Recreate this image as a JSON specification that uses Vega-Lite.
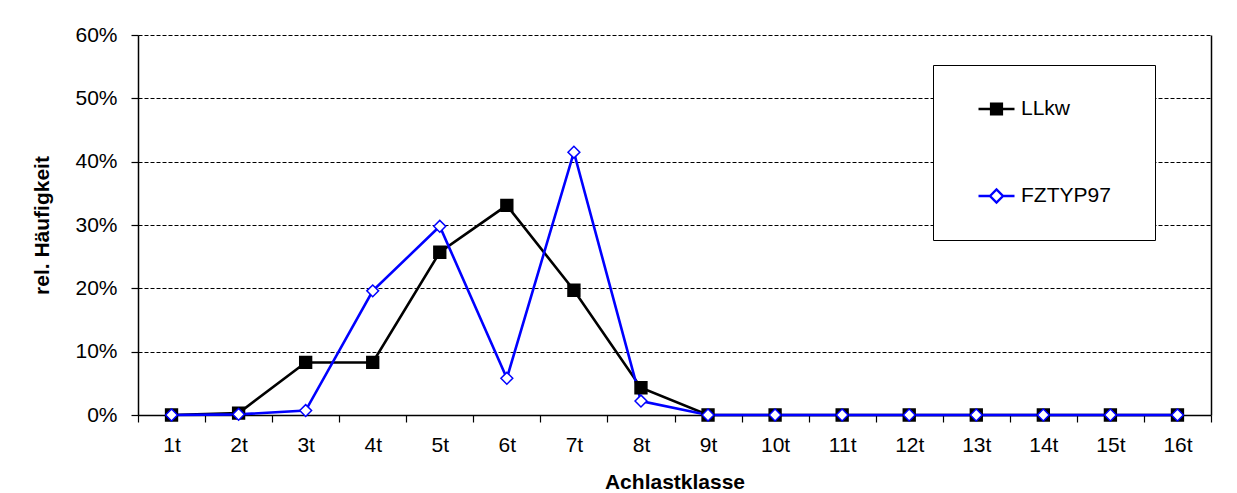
{
  "$schema": "https://vega.github.io/schema/vega-lite/v6.json",
  "autosize": {"type": "none"},
  "width": 1073,
  "height": 380,
  "padding": {"left": 138, "top": 35, "right": 26, "bottom": 78},
  "background": "white",
  "config": {
    "view": {"stroke": null},
    "font": "Liberation Sans",
    "axis": {"labelFont": "Liberation Sans", "titleFont": "Liberation Sans", "labelFontSize": 21, "titleFontSize": 21, "labelColor": "#000", "titleColor": "#000", "titleFontWeight": "bold", "domainColor": "#000", "tickColor": "#000", "domainWidth": 1.5, "tickWidth": 1.2, "tickSize": 7}
  },
  "data": {"values": [
    {"klasse": "1t", "serie": "LLkw", "wert": 0.0},
    {"klasse": "2t", "serie": "LLkw", "wert": 0.003},
    {"klasse": "3t", "serie": "LLkw", "wert": 0.083},
    {"klasse": "4t", "serie": "LLkw", "wert": 0.083},
    {"klasse": "5t", "serie": "LLkw", "wert": 0.257},
    {"klasse": "6t", "serie": "LLkw", "wert": 0.331},
    {"klasse": "7t", "serie": "LLkw", "wert": 0.197},
    {"klasse": "8t", "serie": "LLkw", "wert": 0.043},
    {"klasse": "9t", "serie": "LLkw", "wert": 0.0},
    {"klasse": "10t", "serie": "LLkw", "wert": 0.0},
    {"klasse": "11t", "serie": "LLkw", "wert": 0.0},
    {"klasse": "12t", "serie": "LLkw", "wert": 0.0},
    {"klasse": "13t", "serie": "LLkw", "wert": 0.0},
    {"klasse": "14t", "serie": "LLkw", "wert": 0.0},
    {"klasse": "15t", "serie": "LLkw", "wert": 0.0},
    {"klasse": "16t", "serie": "LLkw", "wert": 0.0},
    {"klasse": "1t", "serie": "FZTYP97", "wert": 0.0},
    {"klasse": "2t", "serie": "FZTYP97", "wert": 0.001},
    {"klasse": "3t", "serie": "FZTYP97", "wert": 0.007},
    {"klasse": "4t", "serie": "FZTYP97", "wert": 0.196},
    {"klasse": "5t", "serie": "FZTYP97", "wert": 0.298},
    {"klasse": "6t", "serie": "FZTYP97", "wert": 0.058},
    {"klasse": "7t", "serie": "FZTYP97", "wert": 0.415},
    {"klasse": "8t", "serie": "FZTYP97", "wert": 0.022},
    {"klasse": "9t", "serie": "FZTYP97", "wert": 0.0},
    {"klasse": "10t", "serie": "FZTYP97", "wert": 0.0},
    {"klasse": "11t", "serie": "FZTYP97", "wert": 0.0},
    {"klasse": "12t", "serie": "FZTYP97", "wert": 0.0},
    {"klasse": "13t", "serie": "FZTYP97", "wert": 0.0},
    {"klasse": "14t", "serie": "FZTYP97", "wert": 0.0},
    {"klasse": "15t", "serie": "FZTYP97", "wert": 0.0},
    {"klasse": "16t", "serie": "FZTYP97", "wert": 0.0}
  ]},
  "encoding": {
    "x": {
      "field": "klasse", "type": "ordinal",
      "sort": ["1t","2t","3t","4t","5t","6t","7t","8t","9t","10t","11t","12t","13t","14t","15t","16t"],
      "scale": {"type": "band", "paddingInner": 0, "paddingOuter": 0},
      "axis": {"title": "Achlastklasse", "labelAngle": 0, "tickBand": "extent", "labelPadding": 12, "titlePadding": 16, "grid": false}
    },
    "y": {
      "field": "wert", "type": "quantitative",
      "scale": {"domain": [0, 0.6], "nice": false}
    }
  },
  "layer": [
    {
      "mark": {"type": "line", "strokeWidth": 2.6},
      "encoding": {
        "y": {"field": "wert", "type": "quantitative", "scale": {"domain": [0, 0.6], "nice": false},
          "axis": {"title": "rel. Häufigkeit", "format": ".0%", "values": [0, 0.1, 0.2, 0.3, 0.4, 0.5, 0.6], "grid": true, "gridColor": "#000", "gridDash": [4, 2], "gridWidth": 1, "labelPadding": 14, "titlePadding": 22}},
        "color": {
          "field": "serie", "type": "nominal",
          "scale": {"domain": ["LLkw", "FZTYP97"], "range": ["#000000", "#0000ff"]},
          "legend": {
            "title": " ",
            "titleOrient": "right",
            "titlePadding": 10,
            "titleFontSize": 21,
            "titleFont": "Liberation Sans",
            "orient": "none",
            "legendX": 795,
            "legendY": 30,
            "padding": 34,
            "fillColor": "white",
            "strokeColor": "#000",
            "labelFont": "Liberation Sans",
            "labelFontSize": 21,
            "labelColor": "#000",
            "labelOffset": 5,
            "symbolSize": 1296,
            "symbolStrokeWidth": 2.4,
            "symbolOffset": 10,
            "clipHeight": 20,
            "rowPadding": 66,
            "encode": {
              "symbols": {"update": {
                "shape": [{"test": "datum.value === 'LLkw'", "value": "M-1,0H-0.3M0.3,0H1M-0.3,-0.3H0.3V0.3H-0.3Z"}, {"value": "M-1,0H-0.36M0.36,0H1M-0.36,0L0,-0.36L0.36,0L0,0.36Z"}],
                "fill": [{"test": "datum.value === 'LLkw'", "value": "#000"}, {"value": "#fff"}],
                "fillOpacity": {"value": 1}
              }}
            }
          }
        }
      }
    },
    {
      "mark": {"type": "point", "filled": true, "opacity": 1, "size": 140, "strokeWidth": 1.5},
      "encoding": {
        "y": {"field": "wert", "type": "quantitative", "scale": {"domain": [0, 0.6], "nice": false},
          "axis": {"orient": "right", "title": null, "labels": false, "ticks": false, "grid": false, "domain": true}},
        "shape": {"field": "serie", "type": "nominal", "scale": {"domain": ["LLkw", "FZTYP97"], "range": ["square", "diamond"]}, "legend": null},
        "fill": {"field": "serie", "type": "nominal", "scale": {"domain": ["LLkw", "FZTYP97"], "range": ["#000000", "#ffffff"]}, "legend": null},
        "stroke": {"field": "serie", "type": "nominal", "scale": {"domain": ["LLkw", "FZTYP97"], "range": ["#000000", "#0000ff"]}, "legend": null}
      }
    }
  ],
  "resolve": {"axis": {"y": "independent"}, "scale": {"color": "independent"}}
}
